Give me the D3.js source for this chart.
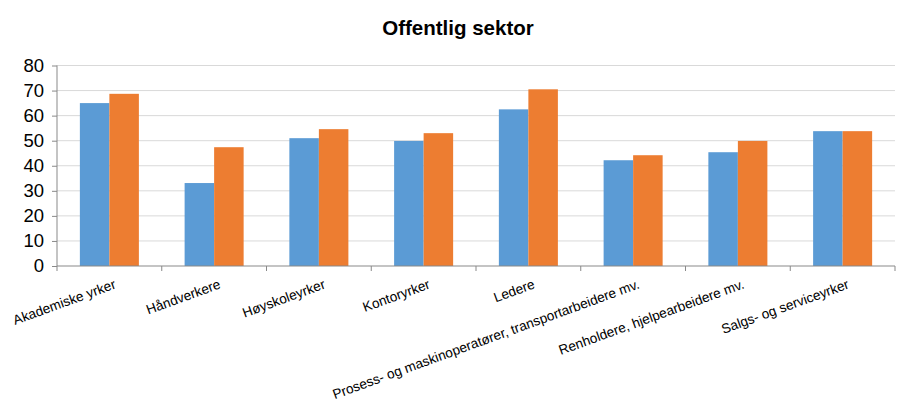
<!DOCTYPE html>
<html><head><meta charset="utf-8">
<script src="https://cdn.jsdelivr.net/npm/d3@7"></script>
<style>body{margin:0;background:#fff}svg{display:block}text{font-family:"Liberation Sans",Arial,sans-serif}</style>
</head><body>
<svg id="c" width="917" height="414"></svg>
<script>
const categories = ["Akademiske yrker","Håndverkere","Høyskoleyrker","Kontoryrker","Ledere","Prosess- og maskinoperatører, transportarbeidere mv.","Renholdere, hjelpearbeidere mv.","Salgs- og serviceyrker"];
const seriesA = [65.0, 33.1, 51.0, 49.9, 62.5, 42.2, 45.4, 53.8];
const seriesB = [68.7, 47.4, 54.6, 53.0, 70.5, 44.2, 49.9, 53.8];
const yTicks = [0,10,20,30,40,50,60,70,80];
const colors = ["#5b9bd5","#ed7d31"];
const title = "Offentlig sektor";

(function(){
const svg = d3.select("#c");
const mL = 57, mR = 895, mT = 65.5, mB = 266;
const x = d3.scaleBand().domain(categories).range([mL,mR]).paddingInner(0).paddingOuter(0);
const y = d3.scaleLinear().domain([0,80]).range([mB,mT]);
const xs = d3.scaleBand().domain([0,1]).range([0, x.bandwidth()]).paddingInner(0).paddingOuter(0.775);

svg.append("g").selectAll("line").data(yTicks.slice(1)).join("line")
  .attr("x1",mL).attr("x2",mR).attr("y1",d=>y(d)).attr("y2",d=>y(d))
  .attr("stroke","#d9d9d9").attr("stroke-width",1);

const data = categories.map((c,i)=>({c, v:[seriesA[i],seriesB[i]]}));
const g = svg.append("g");
g.selectAll("g").data(data).join("g").attr("transform",d=>`translate(${x(d.c)},0)`)
  .selectAll("rect").data(d=>d.v.map((v,k)=>({v,k}))).join("rect")
  .attr("x",d=>xs(d.k)).attr("width",xs.bandwidth())
  .attr("y",d=>y(d.v)).attr("height",d=>mB-y(d.v))
  .attr("fill",d=>colors[d.k]);

const ya = svg.append("g").attr("transform",`translate(${mL},0)`)
  .call(d3.axisLeft(y).tickValues(yTicks).tickSize(5).tickPadding(8));
ya.select(".domain").attr("stroke","#898989").attr("d",`M0,${mT}V${mB}`);
ya.selectAll(".tick line").attr("stroke","#898989");
ya.selectAll(".tick text").attr("font-size","18.5px").attr("fill","#000");

const xa = svg.append("g").attr("transform",`translate(0,${mB})`);
xa.append("line").attr("x1",mL).attr("x2",mR).attr("stroke","#898989");
const bounds = categories.map(c=>x(c)).concat([mR]);
xa.selectAll("line.t").data(bounds).join("line").attr("class","t")
  .attr("x1",d=>d).attr("x2",d=>d).attr("y1",0).attr("y2",5).attr("stroke","#898989");
xa.selectAll("text").data(categories).join("text")
  .attr("transform",d=>`translate(${x(d)+x.bandwidth()/2+4},${13}) rotate(-20)`)
  .attr("text-anchor","end").attr("font-size","13.6px").attr("fill","#000")
  .attr("dy","0.7em").text(d=>d);

svg.append("text").attr("x",458).attr("y",35).attr("text-anchor","middle")
  .attr("font-size","20.5px").attr("font-weight","bold").text(title);
})();
</script>
</body></html>
